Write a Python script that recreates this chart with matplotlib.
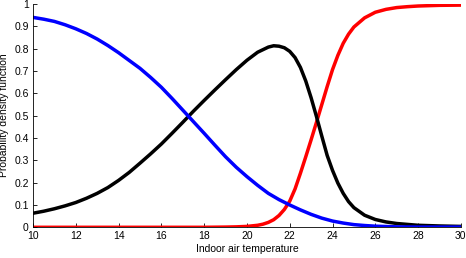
import matplotlib
matplotlib.use("Agg")
import matplotlib.pyplot as plt

# values
temp_blue = [10, 10.5, 11, 11.5, 12, 12.5, 13, 13.5, 14, 14.5, 15, 15.5, 16, 16.5, 17,
             17.5, 18, 18.5, 19, 19.5, 20, 20.5, 21, 21.5, 22, 22.5, 23, 23.5, 24,
             24.5, 25, 25.5, 26, 27, 28, 29, 30]
blue = [0.940, 0.932, 0.922, 0.907, 0.889, 0.868, 0.843, 0.814, 0.782, 0.747, 0.712,
        0.671, 0.627, 0.577, 0.525, 0.473, 0.421, 0.368, 0.316, 0.269, 0.227, 0.188,
        0.152, 0.124, 0.100, 0.078, 0.058, 0.041, 0.028, 0.019, 0.012, 0.008, 0.005,
        0.002, 0.001, 0.001, 0.001]

temp_black = [10, 10.5, 11, 11.5, 12, 12.5, 13, 13.5, 14, 14.5, 15, 15.5, 16, 16.5, 17,
              17.5, 18, 18.5, 19, 19.5, 20, 20.5, 21, 21.25, 21.5, 21.75, 22, 22.25,
              22.5, 22.75, 23, 23.25, 23.5, 23.75, 24, 24.25, 24.5, 24.75, 25, 25.5,
              26, 26.5, 27, 27.5, 28, 29, 30]
black = [0.063, 0.072, 0.083, 0.096, 0.111, 0.130, 0.152, 0.178, 0.210, 0.246, 0.287,
         0.329, 0.373, 0.421, 0.470, 0.520, 0.568, 0.615, 0.661, 0.706, 0.748, 0.784,
         0.807, 0.813, 0.811, 0.804, 0.788, 0.760, 0.716, 0.655, 0.580, 0.496, 0.408,
         0.322, 0.255, 0.198, 0.152, 0.115, 0.088, 0.054, 0.035, 0.024, 0.017, 0.013,
         0.009, 0.006, 0.004]

temp_red = [10, 12, 14, 16, 18, 19, 19.5, 20, 20.5, 20.75, 21, 21.25, 21.5, 21.75, 22,
            22.25, 22.5, 22.75, 23, 23.25, 23.5, 23.75, 24, 24.25, 24.5, 24.75, 25,
            25.5, 26, 26.5, 27, 27.5, 28, 29, 30]
red = [0.0, 0.0, 0.0, 0.0, 0.0, 0.001, 0.002, 0.004, 0.009, 0.014, 0.022, 0.034, 0.053,
       0.080, 0.117, 0.172, 0.242, 0.316, 0.392, 0.470, 0.550, 0.630, 0.706, 0.770,
       0.824, 0.865, 0.897, 0.938, 0.963, 0.976, 0.984, 0.988, 0.991, 0.994, 0.995]

xticks = list(range(10, 31, 2))
yticks = [0, 0.1, 0.2, 0.3, 0.4, 0.5, 0.6, 0.7, 0.8, 0.9, 1]
ytick_labels = ["0", "0.1", "0.2", "0.3", "0.4", "0.5", "0.6", "0.7", "0.8", "0.9", "1"]

plt.rcParams["font.family"] = ["Liberation Sans", "DejaVu Sans"]

fig = plt.figure(figsize=(4.66, 2.58), dpi=100)
ax = fig.add_axes([0.0708, 0.119, 0.9182, 0.8655])

lw = 2.5
ax.plot(temp_red, red, color=(1, 0, 0), lw=lw, solid_joinstyle="round")
ax.plot(temp_black, black, color="k", lw=lw, solid_joinstyle="round")
ax.plot(temp_blue, blue, color=(0, 0, 1), lw=lw, solid_joinstyle="round")

ax.set_xlim(10, 30)
ax.set_ylim(0, 1)
ax.set_xticks(xticks)
ax.set_yticks(yticks)
ax.set_yticklabels(ytick_labels)
ax.tick_params(direction="in", length=3, width=0.6, labelsize=7.5, pad=3)
for s in ["top", "right"]:
    ax.spines[s].set_visible(False)
for s in ["left", "bottom"]:
    ax.spines[s].set_linewidth(0.6)

ax.set_xlabel("Indoor air temperature", fontsize=7.5, labelpad=2)
ax.set_ylabel("Probability density function", fontsize=7.5, labelpad=4)

fig.savefig("out.png", dpi=100)
